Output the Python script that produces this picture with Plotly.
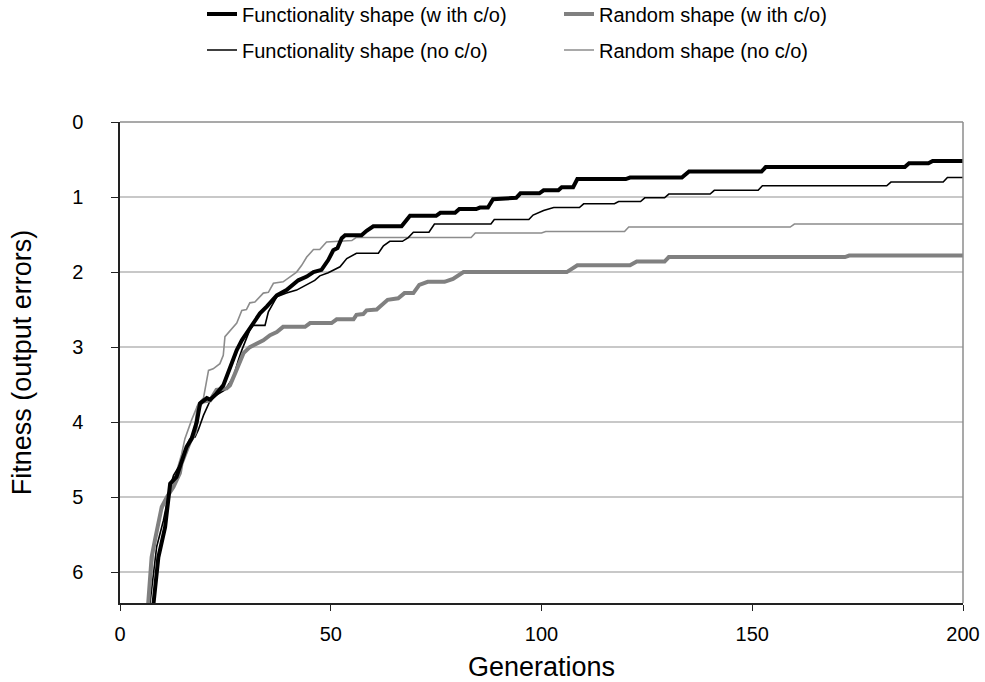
import plotly.graph_objects as go

# ---------------- data ----------------
# Functionality shape (with crossover)
func_co_gen = [5, 7.9, 9.1, 10.7, 11.9, 13.4, 14.6, 15.8, 17, 18.2, 19, 20.6, 21.4, 22.9,
               24.5, 26.1, 27.7, 28.9, 30.8, 33.2, 34.8, 37.2, 39.5, 42.3, 44.3, 45.9,
               47.8, 49.4, 50.6, 51.6, 52.6, 53.4, 57.3, 58.5, 60.1, 66.8, 68.8, 75, 76,
               79.5, 80.5, 84.5, 85.4, 87.3, 88.5, 94, 95, 99.5, 100.5, 104, 104.8, 107.5,
               108.5, 120, 121, 133.3, 135, 152.2, 153.2, 186.2, 187.2, 191.8, 192.8, 200]
func_co_fit = [8.0, 6.42, 5.8, 5.4, 4.82, 4.73, 4.53, 4.33, 4.22, 4.0, 3.75, 3.68, 3.7, 3.62,
               3.51, 3.28, 3.04, 2.91, 2.75, 2.55, 2.46, 2.31, 2.24, 2.11, 2.06, 2.0,
               1.97, 1.84, 1.71, 1.68, 1.55, 1.51, 1.51, 1.45, 1.39, 1.39, 1.25, 1.25, 1.21,
               1.21, 1.16, 1.16, 1.14, 1.14, 1.03, 1.01, 0.95, 0.95, 0.91, 0.91, 0.87, 0.87,
               0.76, 0.76, 0.74, 0.74, 0.66, 0.66, 0.60, 0.60, 0.55, 0.55, 0.52, 0.52]

# Random shape (with crossover)
rand_co_gen = [5, 6.7, 7.5, 8.3, 9.9, 11.1, 12.7, 14.2, 14.6, 16.6, 17.8, 18.6, 19.4, 21.4,
               22.9, 25.3, 26.1, 27.3, 28.1, 29.3, 30.8, 32.4, 34, 35.6, 37.2, 38.7, 43.9,
               45.1, 50.2, 51.4, 55.4, 56.1, 57.7, 58.5, 60.9, 61.7, 63.5, 66, 67.5, 69.6,
               71, 73, 77, 79, 80.5, 81.5, 106, 107.5, 108.5, 121, 122.6, 129.2, 130.2,
               172, 173, 200]
rand_co_fit = [7.7, 6.42, 5.8, 5.57, 5.13, 5.0, 4.86, 4.68, 4.55, 4.26, 4.14, 3.80, 3.73, 3.71,
               3.57, 3.55, 3.51, 3.35, 3.24, 3.08, 3.0, 2.95, 2.91, 2.84, 2.80, 2.73, 2.73,
               2.68, 2.68, 2.63, 2.63, 2.57, 2.56, 2.51, 2.50, 2.46, 2.37, 2.35, 2.28, 2.28,
               2.17, 2.13, 2.13, 2.09, 2.04, 2.0, 2.0, 1.95, 1.91, 1.91, 1.86, 1.86, 1.80,
               1.80, 1.78, 1.78]

# Functionality shape (no crossover)
func_no_gen = [5, 7.1, 8.7, 10.3, 11.9, 12.7, 14.2, 15.4, 16.6, 17.8, 18.6, 19.8, 21.4, 22.9,
               24.9, 26.9, 28.1, 28.9, 30.8, 31.6, 34.4, 35.2, 37.2, 39.5, 41.9, 44.3, 46.2,
               47.4, 49.4, 52.2, 53.8, 56.1, 61.3, 62.5, 64, 67, 68.4, 69.6, 73.3, 74.6, 88,
               88.8, 97, 98, 100.5, 102.9, 109, 110, 117.3, 118.3, 123.5, 124.5, 129.2,
               130.2, 140, 141, 151.4, 152.4, 181.9, 182.9, 195.3, 196.3, 200]
func_no_fit = [8.3, 6.42, 5.66, 5.31, 4.86, 4.71, 4.57, 4.37, 4.22, 4.2, 4.1, 3.91, 3.71, 3.64,
               3.57, 3.40, 3.17, 3.04, 2.77, 2.71, 2.71, 2.53, 2.33, 2.28, 2.24, 2.17, 2.11,
               2.05, 2.01, 1.93, 1.82, 1.75, 1.75, 1.65, 1.59, 1.59, 1.54, 1.47, 1.47, 1.36, 1.36,
               1.30, 1.30, 1.24, 1.18, 1.14, 1.14, 1.09, 1.09, 1.06, 1.06, 1.01, 1.01,
               0.96, 0.96, 0.91, 0.91, 0.85, 0.85, 0.80, 0.80, 0.74, 0.74]

# Random shape (no crossover)
rand_no_gen = [5, 6.7, 7.9, 9.5, 10.7, 11.9, 13.4, 14.6, 15.4, 17, 18.6, 19.8, 21, 22.1, 23.7,
               24.5, 24.9, 27.7, 28.9, 30, 30.8, 32, 34, 35.2, 36.4, 38.7, 40.3, 41.9, 43.1,
               44.3, 45.9, 47.4, 49, 55, 56, 83.3, 84.3, 100, 101, 119.7, 120.7, 159, 160, 200]
rand_no_fit = [8.5, 6.42, 5.75, 5.22, 5.08, 4.9, 4.66, 4.43, 4.22, 3.97, 3.75, 3.68, 3.31, 3.29, 3.22,
               3.11, 2.86, 2.68, 2.51, 2.5, 2.41, 2.40, 2.28, 2.27, 2.15, 2.13, 2.06, 2.0, 1.91,
               1.80, 1.70, 1.70, 1.60, 1.58, 1.54, 1.54, 1.48, 1.48, 1.46, 1.46, 1.40, 1.40, 1.36, 1.36]

series_names = ["Functionality shape (w ith c/o)", "Random shape (w ith c/o)",
                "Functionality shape (no c/o)", "Random shape (no c/o)"]

x_ticks = [0, 50, 100, 150, 200]
y_ticks = [0, 1, 2, 3, 4, 5, 6]

FONT = "Liberation Sans, Arial, sans-serif"

fig = go.Figure()
# drawing order: thin gray, thin black, thick gray, thick black
fig.add_trace(go.Scatter(x=rand_no_gen, y=rand_no_fit, mode="lines", name=series_names[3],
                         line=dict(color="#8c8c8c", width=1.6), legend="legend2", legendrank=2))
fig.add_trace(go.Scatter(x=func_no_gen, y=func_no_fit, mode="lines", name=series_names[2],
                         line=dict(color="#000000", width=1.6), legend="legend2", legendrank=1))
fig.add_trace(go.Scatter(x=rand_co_gen, y=rand_co_fit, mode="lines", name=series_names[1],
                         line=dict(color="#808080", width=4), legend="legend", legendrank=2))
fig.add_trace(go.Scatter(x=func_co_gen, y=func_co_fit, mode="lines", name=series_names[0],
                         line=dict(color="#000000", width=4), legend="legend", legendrank=1))

L, R, T, B = 120, 22, 122, 79
W, H = 985, 682
ph = H - T - B
pw = W - L - R

legend_common = dict(orientation="h", xanchor="left", yanchor="middle",
                     entrywidth=312, entrywidthmode="pixels",
                     font=dict(family=FONT, size=20, color="#000"),
                     bgcolor="rgba(0,0,0,0)", traceorder="normal")

fig.update_layout(
    width=W, height=H,
    margin=dict(l=L, r=R, t=T, b=B, autoexpand=False),
    paper_bgcolor="white", plot_bgcolor="white",
    font=dict(family=FONT, size=20, color="#000"),
    showlegend=True,
    legend=dict(**legend_common, x=(202 - L) / pw, y=1 + (T - 14) / ph),
    legend2=dict(**legend_common, x=(202 - L) / pw, y=1 + (T - 50) / ph),
    xaxis=dict(range=[0, 200], tickvals=x_ticks, ticks="outside", ticklen=6, tickcolor="#222",
               showline=True, linecolor="#222", linewidth=1.5, showgrid=False, zeroline=False,
               tickfont=dict(family=FONT, size=20), automargin=False, ticklabelstandoff=6,
               title=dict(text="Generations", font=dict(family=FONT, size=27), standoff=33)),
    yaxis=dict(range=[6.41, 0], tickvals=y_ticks, ticks="outside", ticklen=7, tickcolor="#222",
               showline=True, linecolor="#222", linewidth=1.5, showgrid=True,
               gridcolor="#c8c8c8", gridwidth=1.5, zeroline=False,
               tickfont=dict(family=FONT, size=20), automargin=False, ticklabelstandoff=24,
               title=dict(text="Fitness (output errors)", font=dict(family=FONT, size=27), standoff=33)),
    shapes=[
        dict(type="line", xref="paper", yref="paper", x0=0, x1=1, y0=1, y1=1,
             line=dict(color="#8c8c8c", width=1.5)),
        dict(type="line", xref="paper", yref="paper", x0=1, x1=1, y0=0, y1=1,
             line=dict(color="#8c8c8c", width=1.5)),
    ],
)

fig.write_html("out.html", config={"displayModeBar": False},
               post_script="document.body.style.margin='0px';")
